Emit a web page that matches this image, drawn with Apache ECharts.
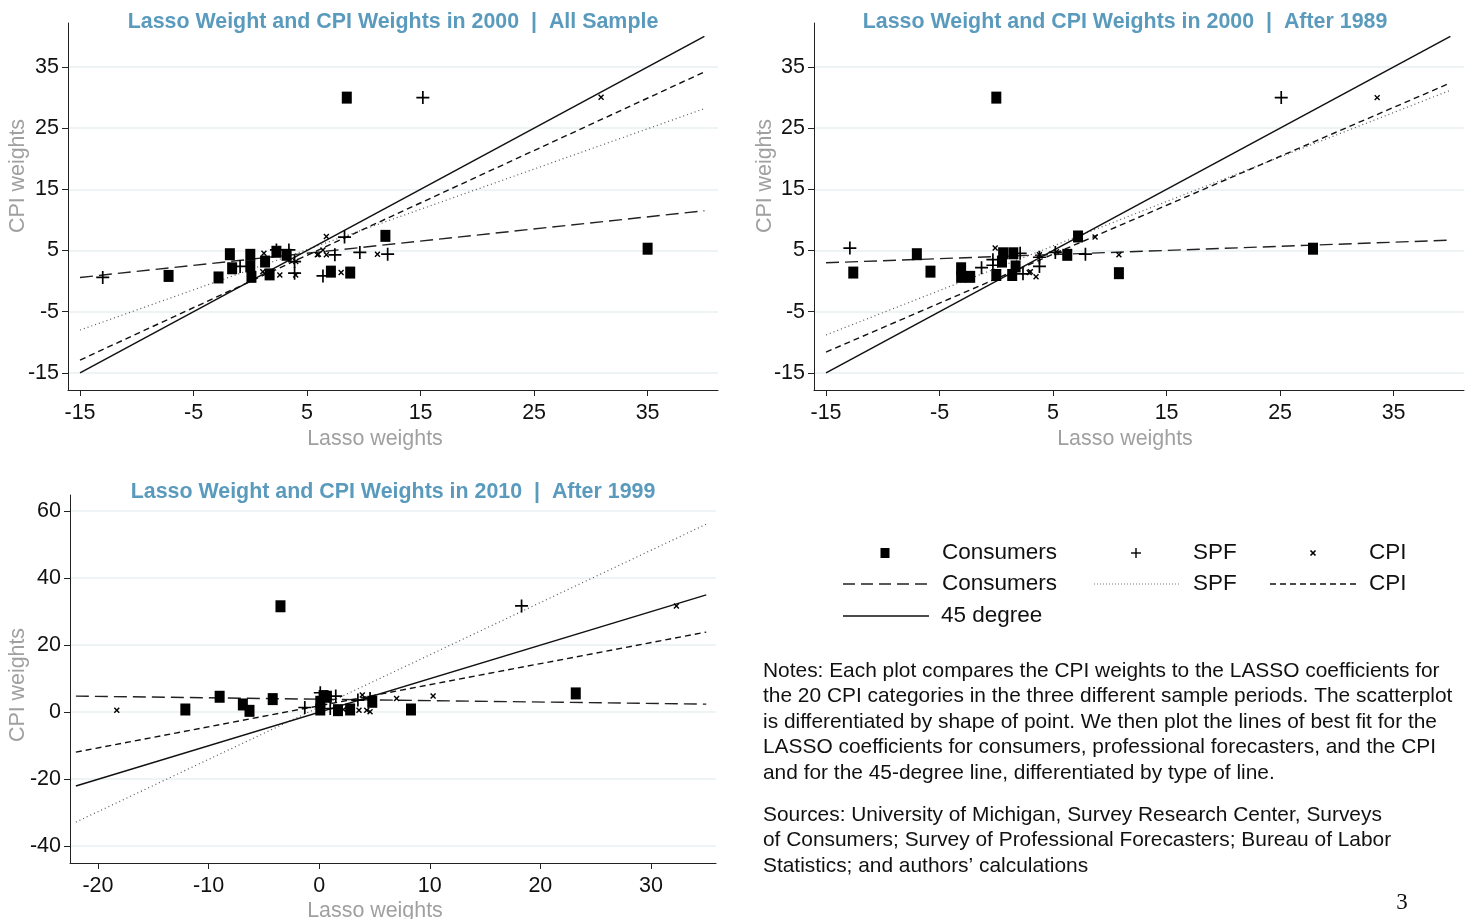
<!DOCTYPE html>
<html><head><meta charset="utf-8">
<script src="https://cdn.jsdelivr.net/npm/echarts@6/dist/echarts.min.js"></script>
<style>html,body{margin:0;padding:0;background:#fff}#c{width:1468px;height:919px}</style>
</head><body><div id="c"></div>
<script>
// ---------- data ----------
const ticks12 = [-15, -5, 5, 15, 25, 35];
const ticksX3 = [-20, -10, 0, 10, 20, 30];
const ticksY3 = [-40, -20, 0, 20, 40, 60];

const titles = [
  'Lasso Weight and CPI Weights in 2000  |  All Sample',
  'Lasso Weight and CPI Weights in 2000  |  After 1989',
  'Lasso Weight and CPI Weights in 2010  |  After 1999'
];

// Panel 1: 2000, all sample  [lasso weight, CPI weight]
const p1Consumers = [[-7.2,0.85],[-2.8,0.6],[-1.8,4.4],[-1.6,2.1],[0.0,4.3],[0.0,2.4],[0.1,0.7],[1.3,3.2],[1.7,1.1],[2.3,4.8],[3.2,4.3],[7.1,1.55],[8.8,1.4],[11.9,7.4],[8.5,30.0],[35.0,5.3]];
const p1SPF = [[-13.0,0.6],[-0.9,2.4],[2.3,5.1],[3.4,5.1],[3.9,3.2],[3.9,1.3],[6.4,0.85],[7.45,4.3],[8.3,7.2],[9.65,4.7],[12.1,4.4],[15.2,30.0]];
const p1CPI = [[1.2,4.55],[1.1,1.55],[2.6,1.0],[4.0,3.2],[4.0,1.0],[5.9,4.3],[6.7,7.3],[6.4,5.1],[6.7,4.3],[8.0,1.4],[11.2,4.4],[30.9,30.05],[6.0,4.4]];
const p1FitConsumers = [[-15,0.6],[40,11.5]];
const p1FitSPF = [[-15,-8.0],[40,28.2]];
const p1FitCPI = [[-15,-12.9],[40,34.2]];
const p1Deg45 = [[-15,-15],[40,40]];

// Panel 2: 2000, after 1989
const p2Consumers = [[-12.6,1.4],[-7.0,4.4],[-5.8,1.55],[-3.1,2.1],[-3.1,0.7],[-2.3,0.7],[0.0,1.0],[0.6,4.55],[0.5,3.2],[1.5,4.55],[1.7,2.4],[1.4,1.0],[6.25,4.3],[7.2,7.3],[10.8,1.3],[0.0,30.0],[27.9,5.3]];
const p2SPF = [[-12.9,5.4],[-1.3,2.2],[-0.3,3.5],[2.1,4.55],[2.35,1.2],[3.8,2.4],[3.8,3.9],[5.2,4.7],[7.85,4.4],[25.1,30.0],[-0.3,2.6]];
const p2CPI = [[-0.1,5.4],[2.9,1.4],[3.5,0.7],[3.8,4.3],[5.3,4.8],[8.7,7.2],[10.8,4.3],[33.55,30.0],[3.0,1.55]];
const p2FitConsumers = [[-15,3.0],[40,6.7]];
const p2FitSPF = [[-15,-8.8],[40,31.2]];
const p2FitCPI = [[-15,-11.6],[40,32.4]];
const p2Deg45 = [[-15,-15],[40,40]];

// Panel 3: 2010, after 1999
const p3Consumers = [[-12.1,0.8],[-9.0,4.6],[-6.9,2.3],[-6.3,0.4],[-4.2,3.9],[0.1,0.8],[0.1,3.1],[0.4,4.8],[0.7,4.6],[1.7,0.6],[2.8,0.8],[4.8,3.1],[8.3,0.8],[23.2,5.6],[-3.5,31.6]];
const p3SPF = [[-1.3,1.4],[0.1,5.8],[1.5,4.8],[1.0,1.1],[3.5,3.6],[4.6,4.1],[18.3,31.7]];
const p3CPI = [[-18.3,0.6],[3.9,5.1],[3.6,0.6],[4.3,0.6],[4.6,0.1],[7.0,4.1],[10.3,4.8],[4.8,3.9],[32.3,31.7],[2.2,0.8]];
const p3FitConsumers = [[-22,4.8],[35,2.4]];
const p3FitSPF = [[-22,-32.8],[35,56.1]];
const p3FitCPI = [[-22,-11.9],[35,23.9]];
const p3Deg45 = [[-22,-22],[35,35]];

// ---------- styles ----------
const FONT = 'Liberation Sans, Arial, sans-serif';
const TITLE_COLOR = '#5a9bbd';
const AXIS_TITLE_COLOR = '#a0a0a0';
const GRID_COLOR = '#e8f0f3';
const PLUS = 'path://M4.35,0H5.65V4.35H10V5.65H5.65V10H4.35V5.65H0V4.35H4.35Z';
const XMARK = 'path://M4,0H6V4H10V6H6V10H4V6H0V4H4Z';

function xAxis(gi, min, max, ticks) {
  return {
    type: 'value', gridIndex: gi, min: min, max: max,
    axisLine: { show: true, onZero: false, lineStyle: { color: '#222', width: 1 } },
    axisTick: { show: true, inside: false, length: 6, customValues: ticks, lineStyle: { color: '#222' } },
    axisLabel: { customValues: ticks, color: '#111', fontSize: 21.5, fontFamily: FONT, margin: 12 },
    splitLine: { show: false }
  };
}
function yAxis(gi, min, max, ticks) {
  return {
    type: 'value', gridIndex: gi, min: min, max: max,
    axisLine: { show: true, onZero: false, lineStyle: { color: '#222', width: 1 } },
    axisTick: { show: true, inside: false, length: 6, customValues: ticks, lineStyle: { color: '#222' } },
    axisLabel: { customValues: ticks, color: '#111', fontSize: 21.5, fontFamily: FONT, margin: 9 },
    splitLine: { show: true, lineStyle: { color: GRID_COLOR, width: 1.5 } }
  };
}
function lineSeries(gi, data, dash, color, width) {
  return {
    type: 'line', xAxisIndex: gi, yAxisIndex: gi, data: data,
    showSymbol: false, silent: true, animation: false, z: 2,
    lineStyle: { color: color, width: width, type: dash }
  };
}
function scatter(gi, data, symbol, size, rotate) {
  return {
    type: 'scatter', xAxisIndex: gi, yAxisIndex: gi, data: data,
    symbol: symbol, symbolSize: size, symbolRotate: rotate || 0, z: 3, animation: false,
    itemStyle: { color: '#000', opacity: 1 }
  };
}
function panelSeries(gi, cons, spf, cpi, fc, fs, fcpi, d45) {
  return [
    lineSeries(gi, fc, [13, 6], '#222', 1.4),
    lineSeries(gi, fs, [1, 3], '#555', 1.2),
    lineSeries(gi, fcpi, [6, 4], '#111', 1.4),
    lineSeries(gi, d45, 'solid', '#111', 1.5),
    scatter(gi, cons, 'rect', [10, 12]),
    scatter(gi, spf, PLUS, 13),
    scatter(gi, cpi, XMARK, 7, 45)
  ];
}

const grids = [
  { left: 68, top: 23, width: 650, height: 367 },
  { left: 814, top: 23, width: 650, height: 367 },
  { left: 70, top: 495, width: 646, height: 368 }
];

function txt(x, y, s, opt) {
  return {
    type: 'text', x: x, y: y, silent: true,
    style: Object.assign({ text: s, fill: '#111', font: '22.5px ' + FONT, align: 'left', verticalAlign: 'middle' }, opt || {})
  };
}
function seg(x1, y1, x2, y2, dash, color, w) {
  const st = { stroke: color, lineWidth: w };
  if (dash) st.lineDash = dash;
  return { type: 'line', silent: true, shape: { x1: x1, y1: y1, x2: x2, y2: y2 }, style: st };
}

const notes = 'Notes: Each plot compares the CPI weights to the LASSO coefficients for\n' +
  'the 20 CPI categories in the three different sample periods. The scatterplot\n' +
  'is differentiated by shape of point. We then plot the lines of best fit for the\n' +
  'LASSO coefficients for consumers, professional forecasters, and the CPI\n' +
  'and for the 45-degree line, differentiated by type of line.';
const sources = 'Sources: University of Michigan, Survey Research Center, Surveys\n' +
  'of Consumers; Survey of Professional Forecasters; Bureau of Labor\n' +
  'Statistics; and authors\u2019 calculations';

const AXT = '21.4px ' + FONT;
const graphics = [
  // axis titles
  { type: 'text', x: 18, y: 176, rotation: Math.PI / 2, silent: true,
    style: { text: 'CPI weights', fill: AXIS_TITLE_COLOR, font: AXT, align: 'center', verticalAlign: 'middle' } },
  { type: 'text', x: 765, y: 176, rotation: Math.PI / 2, silent: true,
    style: { text: 'CPI weights', fill: AXIS_TITLE_COLOR, font: AXT, align: 'center', verticalAlign: 'middle' } },
  { type: 'text', x: 18, y: 685, rotation: Math.PI / 2, silent: true,
    style: { text: 'CPI weights', fill: AXIS_TITLE_COLOR, font: AXT, align: 'center', verticalAlign: 'middle' } },
  txt(375, 439, 'Lasso weights', { fill: AXIS_TITLE_COLOR, align: 'center', font: AXT }),
  txt(1125, 439, 'Lasso weights', { fill: AXIS_TITLE_COLOR, align: 'center', font: AXT }),
  txt(375, 911, 'Lasso weights', { fill: AXIS_TITLE_COLOR, align: 'center', font: AXT }),
  // legend
  { type: 'rect', silent: true, shape: { x: 880.5, y: 548, width: 9, height: 10 }, style: { fill: '#000' } },
  txt(942, 553, 'Consumers'),
  seg(1136, 548, 1136, 558, null, '#000', 1.4),
  seg(1131, 553, 1141, 553, null, '#000', 1.4),
  txt(1193, 553, 'SPF'),
  seg(1310.5, 550.5, 1315.5, 555.5, null, '#000', 1.6),
  seg(1315.5, 550.5, 1310.5, 555.5, null, '#000', 1.6),
  txt(1369, 553, 'CPI'),
  seg(843, 584, 929, 584, [12, 6], '#222', 1.4),
  txt(942, 584, 'Consumers'),
  seg(1094, 584, 1180, 584, [1, 2], '#777', 1.1),
  txt(1193, 584, 'SPF'),
  seg(1270, 584, 1356, 584, [6, 4], '#111', 1.4),
  txt(1369, 584, 'CPI'),
  seg(843, 616, 929, 616, null, '#111', 1.5),
  txt(941, 616, '45 degree'),
  // notes
  { type: 'text', x: 763, y: 658, silent: true,
    style: { text: notes, fill: '#111', font: '20.9px ' + FONT, lineHeight: 25.5, align: 'left', verticalAlign: 'top' } },
  { type: 'text', x: 763, y: 802, silent: true,
    style: { text: sources, fill: '#111', font: '20.9px ' + FONT, lineHeight: 25.5, align: 'left', verticalAlign: 'top' } },
  txt(1402, 903, '3', { font: '23px "Liberation Serif", "DejaVu Serif", serif', align: 'center' })
];

const TS = { color: TITLE_COLOR, fontSize: 21.4, fontWeight: 'bold', fontFamily: FONT };
const option = {
  backgroundColor: '#fff',
  animation: false,
  title: [
    { text: titles[0], left: 388, top: 7, textAlign: 'center', textStyle: TS },
    { text: titles[1], left: 1120, top: 7, textAlign: 'center', textStyle: TS },
    { text: titles[2], left: 388, top: 477, textAlign: 'center', textStyle: TS }
  ],
  grid: grids,
  xAxis: [
    xAxis(0, -16.06, 41.2, ticks12),
    xAxis(1, -16.06, 41.2, ticks12),
    xAxis(2, -22.53, 35.88, ticksX3)
  ],
  yAxis: [
    yAxis(0, -17.8, 42.2, ticks12),
    yAxis(1, -17.8, 42.2, ticks12),
    yAxis(2, -45.0, 64.8, ticksY3)
  ],
  series: [].concat(
    panelSeries(0, p1Consumers, p1SPF, p1CPI, p1FitConsumers, p1FitSPF, p1FitCPI, p1Deg45),
    panelSeries(1, p2Consumers, p2SPF, p2CPI, p2FitConsumers, p2FitSPF, p2FitCPI, p2Deg45),
    panelSeries(2, p3Consumers, p3SPF, p3CPI, p3FitConsumers, p3FitSPF, p3FitCPI, p3Deg45)
  ),
  graphic: graphics
};

const chart = echarts.init(document.getElementById('c'), null, { renderer: 'canvas' });
chart.setOption(option);
</script>
</body></html>
